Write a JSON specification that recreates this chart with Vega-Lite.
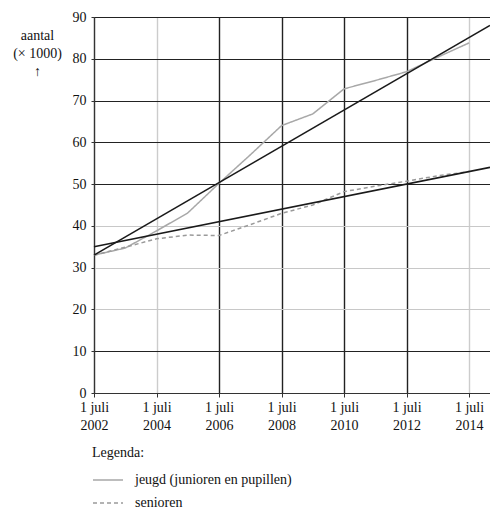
{
  "$schema": "https://vega.github.io/schema/vega-lite/v6.json",
  "width": 396,
  "height": 376,
  "autosize": "none",
  "padding": {"left": 94, "top": 17, "right": 0, "bottom": 116},
  "background": "white",
  "config": {
    "font": "Liberation Serif",
    "view": {"stroke": null},
    "axis": {"labelFont": "Liberation Serif", "titleFont": "Liberation Serif", "labelColor": "#111", "titleColor": "#111", "titleFontWeight": "normal"},
    "legend": {"labelFont": "Liberation Serif", "titleFont": "Liberation Serif"}
  },
  "datasets": {
    "observed": [
      {"jaar": 2002, "aantal": 33, "groep": "jeugd (junioren en pupillen)"},
      {"jaar": 2003, "aantal": 34.7, "groep": "jeugd (junioren en pupillen)"},
      {"jaar": 2004, "aantal": 38.8, "groep": "jeugd (junioren en pupillen)"},
      {"jaar": 2005, "aantal": 43.1, "groep": "jeugd (junioren en pupillen)"},
      {"jaar": 2006, "aantal": 50.2, "groep": "jeugd (junioren en pupillen)"},
      {"jaar": 2007, "aantal": 57, "groep": "jeugd (junioren en pupillen)"},
      {"jaar": 2008, "aantal": 64, "groep": "jeugd (junioren en pupillen)"},
      {"jaar": 2009, "aantal": 66.8, "groep": "jeugd (junioren en pupillen)"},
      {"jaar": 2010, "aantal": 72.8, "groep": "jeugd (junioren en pupillen)"},
      {"jaar": 2011, "aantal": 74.8, "groep": "jeugd (junioren en pupillen)"},
      {"jaar": 2012, "aantal": 76.9, "groep": "jeugd (junioren en pupillen)"},
      {"jaar": 2013, "aantal": 80.4, "groep": "jeugd (junioren en pupillen)"},
      {"jaar": 2014, "aantal": 83.8, "groep": "jeugd (junioren en pupillen)"},
      {"jaar": 2002, "aantal": 33, "groep": "senioren"},
      {"jaar": 2003, "aantal": 34.9, "groep": "senioren"},
      {"jaar": 2004, "aantal": 36.9, "groep": "senioren"},
      {"jaar": 2005, "aantal": 37.8, "groep": "senioren"},
      {"jaar": 2006, "aantal": 37.7, "groep": "senioren"},
      {"jaar": 2007, "aantal": 40.3, "groep": "senioren"},
      {"jaar": 2008, "aantal": 43, "groep": "senioren"},
      {"jaar": 2009, "aantal": 45, "groep": "senioren"},
      {"jaar": 2010, "aantal": 48.2, "groep": "senioren"},
      {"jaar": 2011, "aantal": 49.5, "groep": "senioren"},
      {"jaar": 2012, "aantal": 50.7, "groep": "senioren"},
      {"jaar": 2013, "aantal": 52, "groep": "senioren"},
      {"jaar": 2014, "aantal": 53, "groep": "senioren"}
    ],
    "trend": [
      {"jaar": 2002, "aantal": 33, "groep": "jeugd"},
      {"jaar": 2014.67, "aantal": 88, "groep": "jeugd"},
      {"jaar": 2002, "aantal": 35, "groep": "senioren"},
      {"jaar": 2014.67, "aantal": 54, "groep": "senioren"}
    ]
  },
  "layer": [
    {
      "data": {"name": "observed"},
      "mark": {"type": "line", "strokeWidth": 1.5},
      "encoding": {
        "x": {
          "field": "jaar", "type": "quantitative",
          "scale": {"domain": [2002, 2014.67], "nice": false, "zero": false},
          "axis": {
            "title": null,
            "values": [2002, 2003, 2004, 2005, 2006, 2007, 2008, 2009, 2010, 2011, 2012, 2013, 2014],
            "labelExpr": "datum.value % 2 == 0 ? ['1 juli', '' + datum.value] : ''",
            "labelOverlap": false,
            "labelFlush": false,
            "labelFontSize": 14,
            "labelLineHeight": 18,
            "labelPadding": 3,
            "tickSize": 4,
            "tickColor": "#333",
            "domainColor": "#333",
            "domainWidth": 1,
            "grid": true,
            "gridWidth": 1.4,
            "gridOpacity": 1,
            "gridColor": {"condition": {"test": "datum.value == 2004 || datum.value == 2007 || datum.value == 2009 || datum.value == 2014", "value": "#cccccc"}, "value": "#222222"}
          }
        },
        "y": {
          "field": "aantal", "type": "quantitative",
          "scale": {"domain": [0, 90], "nice": false},
          "axis": {
            "values": [0, 10, 20, 30, 40, 50, 60, 70, 80, 90],
            "title": ["aantal", "(× 1000)", "↑"],
            "titleAngle": 0,
            "titleAlign": "center",
            "titleBaseline": "top",
            "titleX": -57,
            "titleY": 11,
            "titleFontSize": 14,
            "titleLineHeight": 18,
            "labelFontSize": 14,
            "labelPadding": 5,
            "tickSize": 3,
            "tickColor": "#333",
            "domainColor": "#333",
            "domainWidth": 1,
            "grid": true,
            "gridWidth": 1.2,
            "gridOpacity": 1,
            "gridColor": {"condition": {"test": "datum.value == 20 || datum.value == 30 || datum.value == 40", "value": "#c8c8c8"}, "value": "#222222"}
          }
        },
        "color": {
          "field": "groep", "type": "nominal",
          "scale": {"domain": ["jeugd (junioren en pupillen)", "senioren"], "range": ["#a8a8a8", "#9a9a9a"]},
          "legend": {
            "title": "Legenda:",
            "orient": "none",
            "legendX": -2,
            "legendY": 429,
            "direction": "vertical",
            "titleFontSize": 14,
            "titleFontWeight": "normal",
            "titleColor": "#111",
            "titlePadding": 4,
            "labelFontSize": 14,
            "labelColor": "#111",
            "labelOffset": 11,
            "symbolType": "stroke",
            "symbolSize": 900,
            "symbolStrokeWidth": 1.5,
            "rowPadding": -11
          }
        },
        "strokeDash": {
          "field": "groep", "type": "nominal",
          "scale": {"domain": ["jeugd (junioren en pupillen)", "senioren"], "range": [[1, 0], [4, 3]]},
          "legend": {
            "title": "Legenda:",
            "orient": "none",
            "legendX": -2,
            "legendY": 429,
            "direction": "vertical",
            "titleFontSize": 14,
            "titleFontWeight": "normal",
            "titleColor": "#111",
            "titlePadding": 4,
            "labelFontSize": 14,
            "labelColor": "#111",
            "labelOffset": 11,
            "symbolType": "stroke",
            "symbolSize": 900,
            "symbolStrokeWidth": 1.5,
            "rowPadding": -11
          }
        }
      }
    },
    {
      "data": {"name": "trend"},
      "mark": {"type": "line", "color": "#1a1a1a", "strokeWidth": 1.6},
      "encoding": {
        "x": {"field": "jaar", "type": "quantitative"},
        "y": {"field": "aantal", "type": "quantitative"},
        "detail": {"field": "groep", "type": "nominal"}
      }
    }
  ]
}
